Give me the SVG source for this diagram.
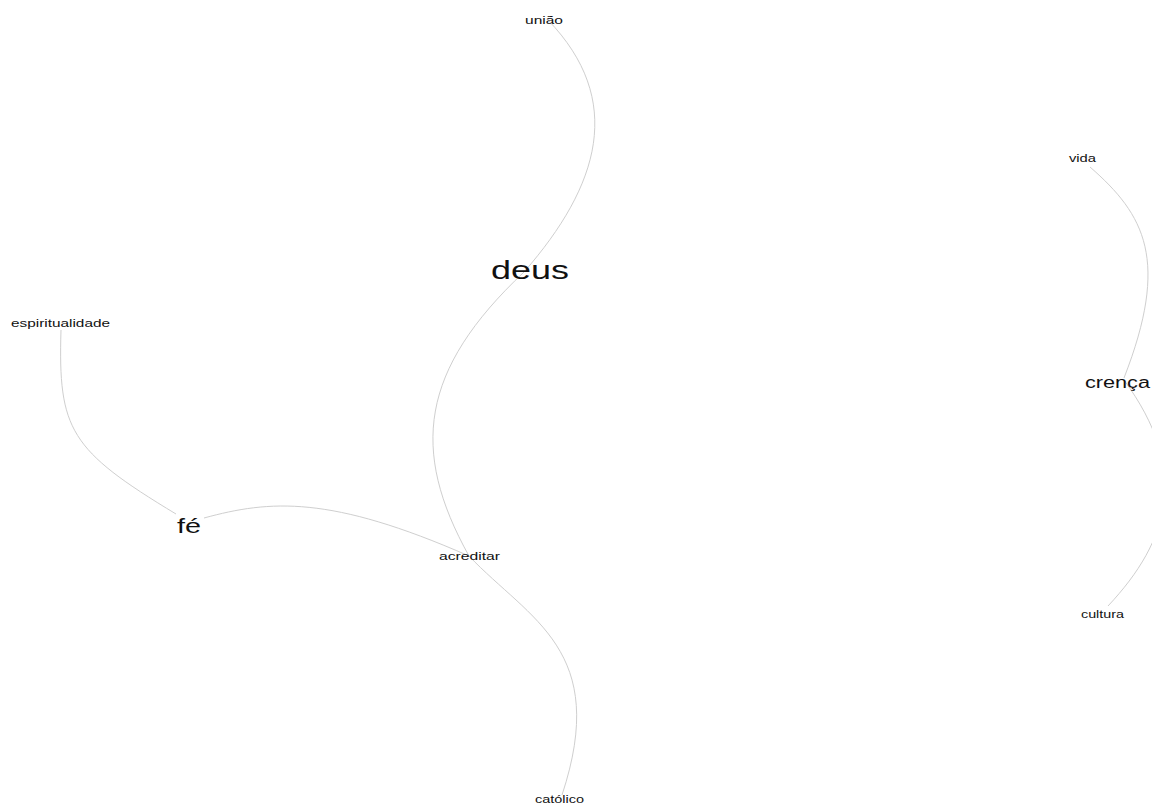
<svg xmlns="http://www.w3.org/2000/svg" width="1152" height="806" viewBox="0 0 1152 806">
<style>
.e{fill:none;stroke:#cfcfcf;stroke-width:1}
text{font-family:"Liberation Sans",Arial,sans-serif;fill:#111;lengthAdjust:spacingAndGlyphs}
.s{font-size:11px}
</style>
<rect width="1152" height="806" fill="#fff"/>
<g id="edges">
<path class="e" d="M548,20 C625,100 600,185 524,272"/>
<path class="e" d="M524,272 C420,370 410,450 469,556"/>
<path class="e" d="M469,556 C530,620 610,650 562,795"/>
<path class="e" d="M61,330 C58,430 70,450 176,514"/>
<path class="e" d="M204,518 C270,500 330,495 469,556"/>
<path class="e" d="M1090,167 C1145,215 1170,260 1124,378"/>
<path class="e" d="M1124,380 C1190,470 1170,540 1108,606"/>
</g>
<g id="uniao"><text class="s" x="525" y="24" textLength="38" lengthAdjust="spacingAndGlyphs">união</text></g>
<g id="deus"><text x="491" y="279" font-size="25" textLength="78" lengthAdjust="spacingAndGlyphs">deus</text></g>
<g id="espiritualidade"><text class="s" x="11" y="327" textLength="99" lengthAdjust="spacingAndGlyphs">espiritualidade</text></g>
<g id="fe"><text x="177" y="533" font-size="21" textLength="24" lengthAdjust="spacingAndGlyphs">fé</text></g>
<g id="acreditar"><text class="s" x="439" y="560" textLength="61" lengthAdjust="spacingAndGlyphs">acreditar</text></g>
<g id="catolico"><text class="s" x="535" y="803" textLength="49" lengthAdjust="spacingAndGlyphs">católico</text></g>
<g id="vida"><text class="s" x="1069" y="162" textLength="27" lengthAdjust="spacingAndGlyphs">vida</text></g>
<g id="crenca"><text x="1085" y="388" font-size="16" textLength="65" lengthAdjust="spacingAndGlyphs">crença</text></g>
<g id="cultura"><text class="s" x="1081" y="618" textLength="43" lengthAdjust="spacingAndGlyphs">cultura</text></g>
</svg>
